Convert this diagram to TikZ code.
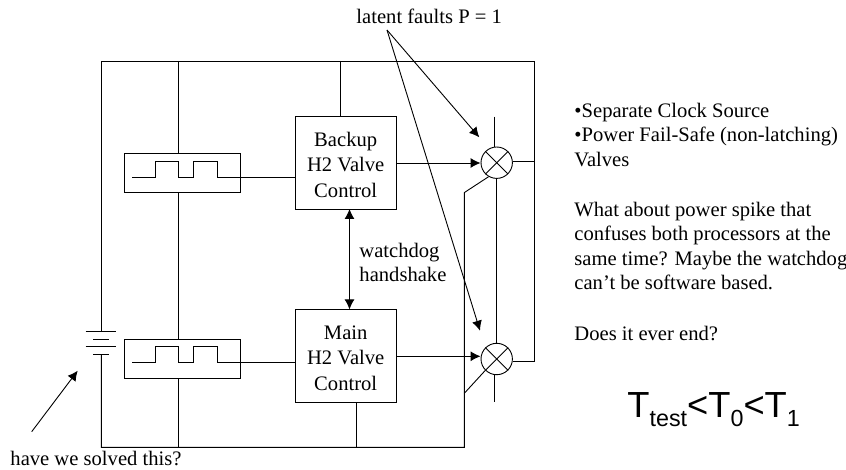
\documentclass[tikz,border=0pt]{standalone}
\usepackage{fontspec}
\setmainfont{Liberation Serif}
\newfontfamily\arialfont{Liberation Sans}
\usetikzlibrary{arrows.meta}
\newcommand{\subT}[1]{\raisebox{-9pt}{\fontsize{23.3}{23.3}\selectfont #1}}
\begin{document}
\begin{tikzpicture}[x=1pt,y=-1pt,>={Latex[length=10pt,width=10pt]},line width=0.9pt,
font=\fontsize{20.6}{24.5}\selectfont,
ctrlbox/.style={draw,align=center,minimum width=100.5pt,minimum height=92.3pt,inner sep=0pt,
font=\fontsize{20.6}{25.2}\selectfont},
clockbox/.style={draw,minimum width=116pt,minimum height=39pt,inner sep=0pt},
mixer/.style={draw,circle,minimum size=31.4pt,inner sep=0pt},
note/.style={anchor=north west,align=left,inner sep=0pt}]
\useasboundingbox (0,0) rectangle (846,470);
% control boxes
\node[ctrlbox] (backup) at (345.7,163) {\rule{0pt}{18pt}Backup\\H2 Valve\\Control};
\node[ctrlbox] (main) at (345.7,356) {\rule{0pt}{18pt}Main\\H2 Valve\\Control};
\draw[<->] (349.5,209) coordinate (hs1) -- (hs1 |- main.north);
\node[anchor=west,align=left,inner sep=0pt] (watch) at (359,262.5) {watchdog\\handshake};
% clock boxes
\node[clockbox] (clockb) at (182,173.2) {};
\node[clockbox] (clockm) at (182,358.5) {};
% mixers
\node[mixer] (mixb) at (496.7,162.7) {};
\node[mixer] (mixm) at (496.7,359) {};
\foreach \m in {mixb,mixm} {
\draw (\m.45) -- (\m.225);
\draw (\m.135) -- (\m.-45);
}
% supply rails
\coordinate (tl) at (101.3,61);
\coordinate (tr) at (534,61);
\coordinate (bl) at (101.3,447.3);
\coordinate (br) at (464.3,447.3);
\coordinate (batt) at (101.3,331.7);
\draw (batt) -- (tl) -- (tr) |- (mixm.-10);
\draw (tr |- mixb.5) -- (mixb.5);
\draw (101.3,354.7) -- (bl) -- (br) -- (464.3,192.6) coordinate (kink) -- (mixb.240);
\draw (464.3,393.3) coordinate (kinkm) -- (mixm.225);
\draw (mixb.south) -- (mixm.north);
% battery
\draw (85.7,331.7) -- (116.3,331.7);
\draw (93.3,339) -- (109,339);
\draw (85.7,346.7) -- (116.3,346.7);
\draw (93.3,354.7) -- (109,354.7);
% clock feeds
\draw (178.3,61) -- (178.3,61 |- clockb.north);
\draw (178.3,0 |- clockb.south) -- (178.3,0 |- clockm.north);
\draw (178.3,0 |- clockm.south) -- (178.3,447.3);
% control feeds
\draw (340.5,61) -- (340.5,0 |- backup.north);
\draw (356,0 |- main.south) -- (356,447.3);
% square waves
\draw (132,177) -- (155,177) -- (155,161.3) -- (178.3,161.3) -- (178.3,177) -- (193.7,177)
-- (193.7,161.3) -- (217,161.3) -- (217,177) -- (backup.west |- 0,177);
\draw (132,362.3) -- (155,362.3) -- (155,346.7) -- (178.3,346.7) -- (178.3,362.3) -- (193.7,362.3)
-- (193.7,346.7) -- (217,346.7) -- (217,362.3) -- (main.west |- 0,362.3);
% valve outputs
\draw[->] (backup.east |- 0,163) -- (mixb.west |- 0,163);
\draw[->] (main.east |- 0,356.3) -- (mixm.west |- 0,356.3);
\draw (494.7,116.7) -- (494.7,147.2);
\draw (494.7,374.8) -- (494.7,402.3);
% latent faults
\node[anchor=base west,inner sep=0pt] (latent) at (356,23.3) {latent faults P = 1};
\coordinate (lat) at (387,30);
\coordinate (tipb) at (479.3,137.3);
\coordinate (tipm) at (480,330.7);
\draw[->] (lat) -- (tipb);
\draw[->] (lat) -- (tipm);
% battery note
\node[anchor=base west,inner sep=0pt] (solved) at (10,465) {have we solved this?};
\coordinate (solvedtip) at (77.7,370.7);
\draw[->] (31.7,431.7) coordinate (solvedend) -- (solvedtip);
% notes on the right
\node[note] (bullets) at (574,102.5) {•Separate Clock Source\\•Power Fail-Safe (non-latching)\\Valves};
\node[note] (spike) at (574,201.7) {What about power spike that\\confuses both processors at the\\same time? Maybe the watchdog\\can’t be software based.};
\node[note] (end) at (574,325.5) {Does it ever end?};
\node[anchor=base west,inner sep=0pt] (ineq) at (627,417.7) {\arialfont\fontsize{36.3}{36.3}\selectfont T\subT{test}<T\subT{0}<T\subT{1}};
\end{tikzpicture}
\end{document}
